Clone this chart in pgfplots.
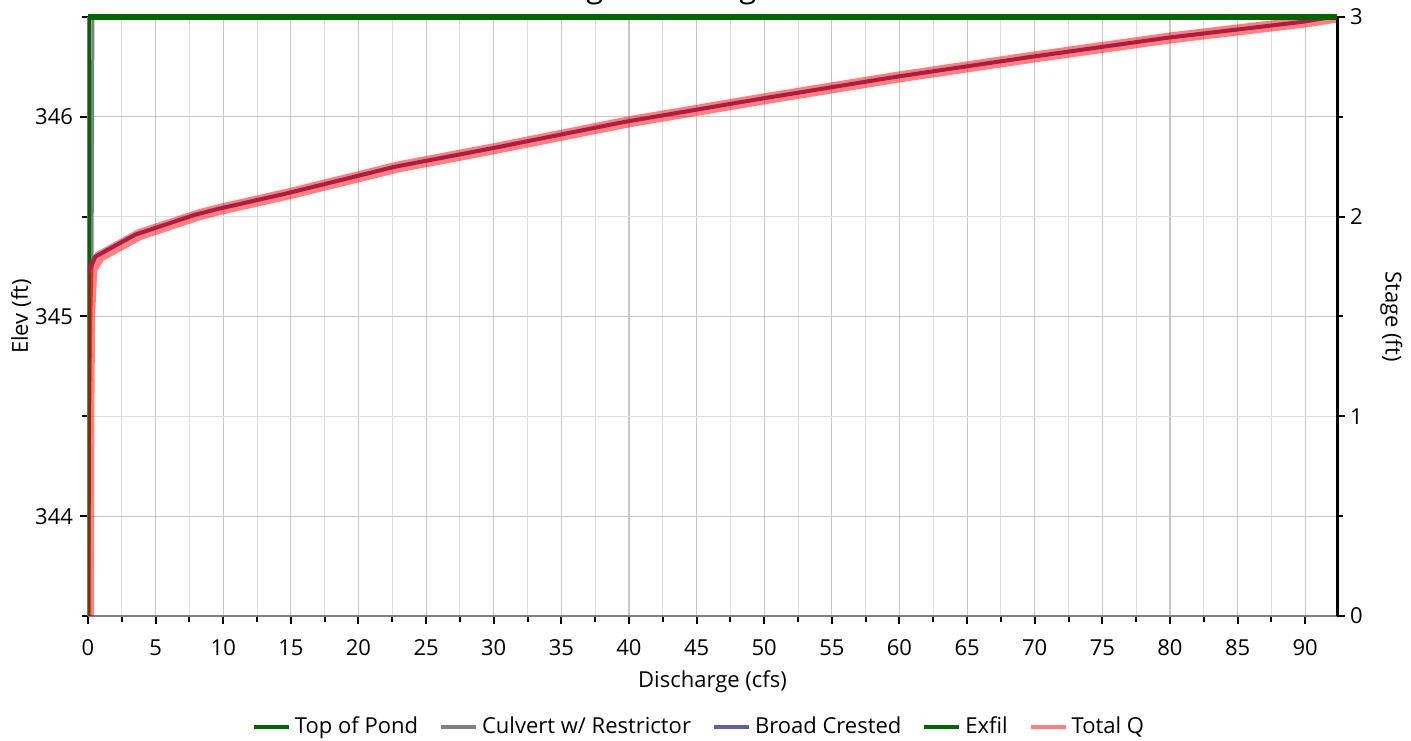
\documentclass[border=0pt]{standalone}
\usepackage{pgfplots}
\pgfplotsset{compat=1.18}
\usepackage{fontspec}
\setmainfont{Open Sans}
\usetikzlibrary{calc}

\definecolor{pondgreen}{RGB}{0,102,0}
\definecolor{culvgray}{RGB}{128,128,128}
\definecolor{broadblue}{RGB}{96,96,160}
\definecolor{broadline}{RGB}{90,60,140}
\definecolor{totalpink}{RGB}{255,128,128}

\newcommand{\ff}{\fontsize{11}{13}\selectfont}

\begin{document}
\begin{tikzpicture}
\begin{axis}[
  name=main,
  scale only axis,
  width=624.5pt, height=299.5pt,
  xmin=0, xmax=92.35,
  ymin=343.5, ymax=346.5,
  xtick={0,5,...,90},
  minor xtick={2.5,7.5,...,92.5},
  ytick={344,345,346},
  minor ytick={343.5,344.5,345.5,346.5},
  grid=both,
  major grid style={black!22, line width=0.55pt},
  minor grid style={black!13, line width=0.55pt},
  axis x line*=bottom, axis y line*=left,
  axis line style={culvgray, line width=1pt},
  tick style={black, line width=1pt},
  major tick length=4pt, minor tick length=3pt,
  tick align=outside,
  xticklabel style={yshift=-4.5pt},
  tick label style={font=\ff},
  /pgf/number format/assume math mode=true,
  xlabel={Discharge (cfs)}, ylabel={Elev (ft)},
  label style={font=\ff},
  xlabel style={yshift=-0.5pt},
  ylabel style={yshift=-5pt},
  legend style={at={(0.49,-0.1853)}, anchor=center, draw=none, fill=none,
    font=\ff, legend columns=-1,
    /tikz/every even column/.append style={column sep=8.5pt}},
  legend image code/.code={\draw[#1] (0pt,0pt) -- (17.5pt,0pt);},
]
\coordinate (bl) at (rel axis cs:0,0);
\coordinate (tr) at (rel axis cs:1,1);
\coordinate (tt) at (axis cs:42.1,346.5);

% legend samples
\addlegendimage{pondgreen, line width=2pt}
\addlegendentry{Top of Pond}
\addlegendimage{culvgray, line width=2pt}
\addlegendentry{Culvert w/ Restrictor}
\addlegendimage{broadblue, line width=2pt}
\addlegendentry{Broad Crested}
\addlegendimage{pondgreen, line width=2pt}
\addlegendentry{Exfil}
\addlegendimage{totalpink, line width=2pt}
\addlegendentry{Total Q}

% Culvert w/ Restrictor
\addplot[forget plot, culvgray, line width=1.5pt] coordinates {
  (0.02,343.5) (0.12,344.5) (0.2,345.0) (0.3,345.25) (0.34,346.0) (0.36,346.5)
};
% Exfil
\addplot[forget plot, pondgreen, line width=2.6pt] coordinates {
  (0.0,343.5) (0.02,344.5) (0.03,345.5) (0.04,346.5)
};
% Broad Crested
\addplot[forget plot, broadline, line width=2pt] coordinates {
  (0.0,345.22) (0.55,345.3) (3.5,345.41) (7.95,345.51) (9.7,345.54)
  (14.6,345.615) (19.7,345.70) (22.7,345.75) (29.7,345.84) (39.7,345.975)
  (49.7,346.09) (59.7,346.2) (69.7,346.3) (79.7,346.395) (89.7,346.475)
  (92.0,346.5)
};
% Total Q
\addplot[forget plot, red, opacity=0.5, line width=5.5pt] coordinates {
  (0.03,343.5) (0.06,344.5) (0.12,345.0) (0.22,345.15) (0.3,345.24)
  (0.85,345.3) (3.8,345.41) (8.25,345.51) (10,345.54) (14.9,345.615)
  (20,345.70) (23,345.75) (30,345.84) (40,345.975) (50,346.09) (60,346.2)
  (70,346.3) (80,346.395) (90,346.475) (92.35,346.5)
};
\end{axis}

\begin{axis}[
  scale only axis,
  width=624.5pt, height=299.5pt,
  xmin=0, xmax=92.35,
  ymin=0, ymax=3,
  axis x line=none,
  axis y line*=right,
  axis line style={black, line width=1.5pt},
  ytick={0,1,2,3},
  minor ytick={0.5,1.5,2.5},
  tick style={black, line width=1pt},
  major tick length=4pt, minor tick length=3pt,
  tick align=outside,
  tick label style={font=\ff},
  yticklabel style={xshift=-1pt},
  /pgf/number format/assume math mode=true,
  ylabel={Stage (ft)},
  ylabel style={font=\ff, rotate=180, yshift=2pt},
  clip=false,
]
% Top of Pond (stage 3 = elev 346.5)
\addplot[pondgreen, line width=2.8pt] coordinates {(0,3) (92.35,3)};
\end{axis}

\pgfresetboundingbox
\useasboundingbox ($(bl)+(-44pt,-62.5pt)$) rectangle ($(tr)+(37pt,8.5pt)$);
\node[anchor=base, yshift=9.5pt, font=\fontsize{15.5}{17}\selectfont] at (tt) {Stage-Discharge};
\end{tikzpicture}
\end{document}
